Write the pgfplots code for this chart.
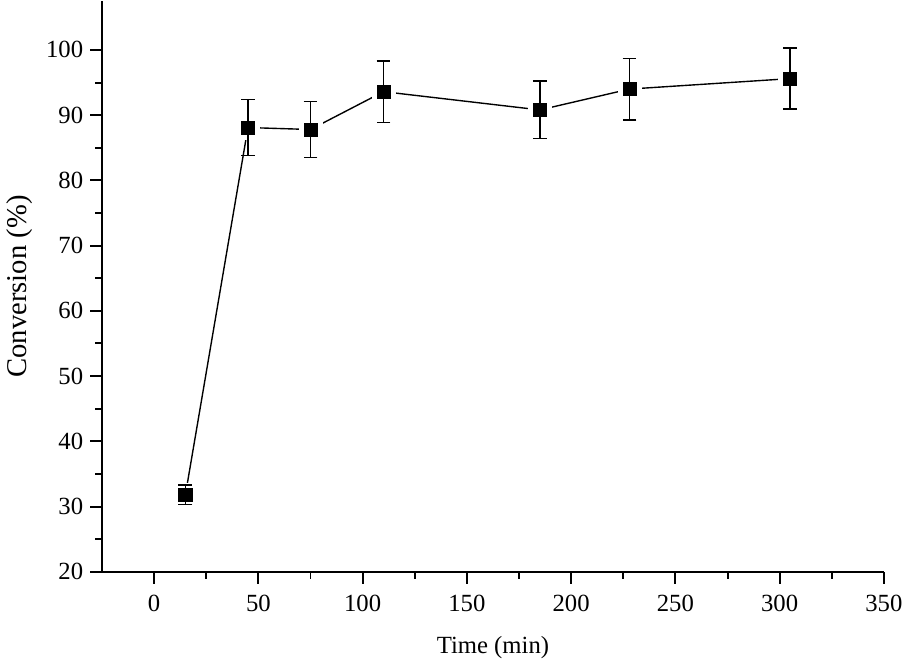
\documentclass[border=0pt]{standalone}
\usepackage{pgfplots}
\pgfplotsset{compat=1.18}
\usepackage{fontspec}
\setmainfont{Liberation Serif}

\pgfplotstableread{
t conv err
15 31.8 1.5
45 88.1 4.3
75 87.8 4.3
110 93.6 4.7
185 90.8 4.4
228 94.0 4.7
305 95.6 4.7
}\conv

\begin{document}
\begin{tikzpicture}
\begin{axis}[
    set layers,
    scale only axis,
    width=394.5bp, height=288bp,
    xmin=-25, xmax=350,
    ymin=20, ymax=107.5,
    xtick={0,50,...,350},
    ytick={20,30,...,100},
    minor x tick num=1,
    minor y tick num=1,
    axis x line*=bottom,
    axis y line*=left,
    axis line style={line width=1bp},
    tick style={line width=1bp, black},
    tick align=outside,
    major tick length=6bp,
    minor tick length=3.5bp,
    tick label style={font=\fontsize{12.5}{15}\selectfont},
    xticklabel style={yshift=-2bp},
    /pgf/number format/assume math mode=true,
    xlabel={Time (min)},
    ylabel={Conversion (\%)},
    xlabel style={font=\fontsize{12.5}{15}\selectfont, yshift=-6bp},
    ylabel style={font=\fontsize{14.5}{17}\selectfont, yshift=0bp},
    clip=false,
]
% connecting line
\addplot[on layer=axis background, black, line width=0.7bp] table[x=t, y=conv] {\conv};
% white halo around each marker so the line stops short of it
\addplot[on layer=axis background, mark layer=axis background,
    only marks, mark=square*, mark size=5.8bp,
    mark options={fill=white, draw=white}] table[x=t, y=conv] {\conv};
% error bars and markers
\addplot[only marks, mark=square*, mark size=3.3bp,
    mark options={fill=black, draw=black},
    error bars/.cd, y dir=both, y explicit,
    error bar style={line width=0.8bp, black},
    error mark options={rotate=90, mark size=3.5bp, line width=0.8bp}]
    table[x=t, y=conv, y error=err] {\conv};
\end{axis}
\end{tikzpicture}
\end{document}
